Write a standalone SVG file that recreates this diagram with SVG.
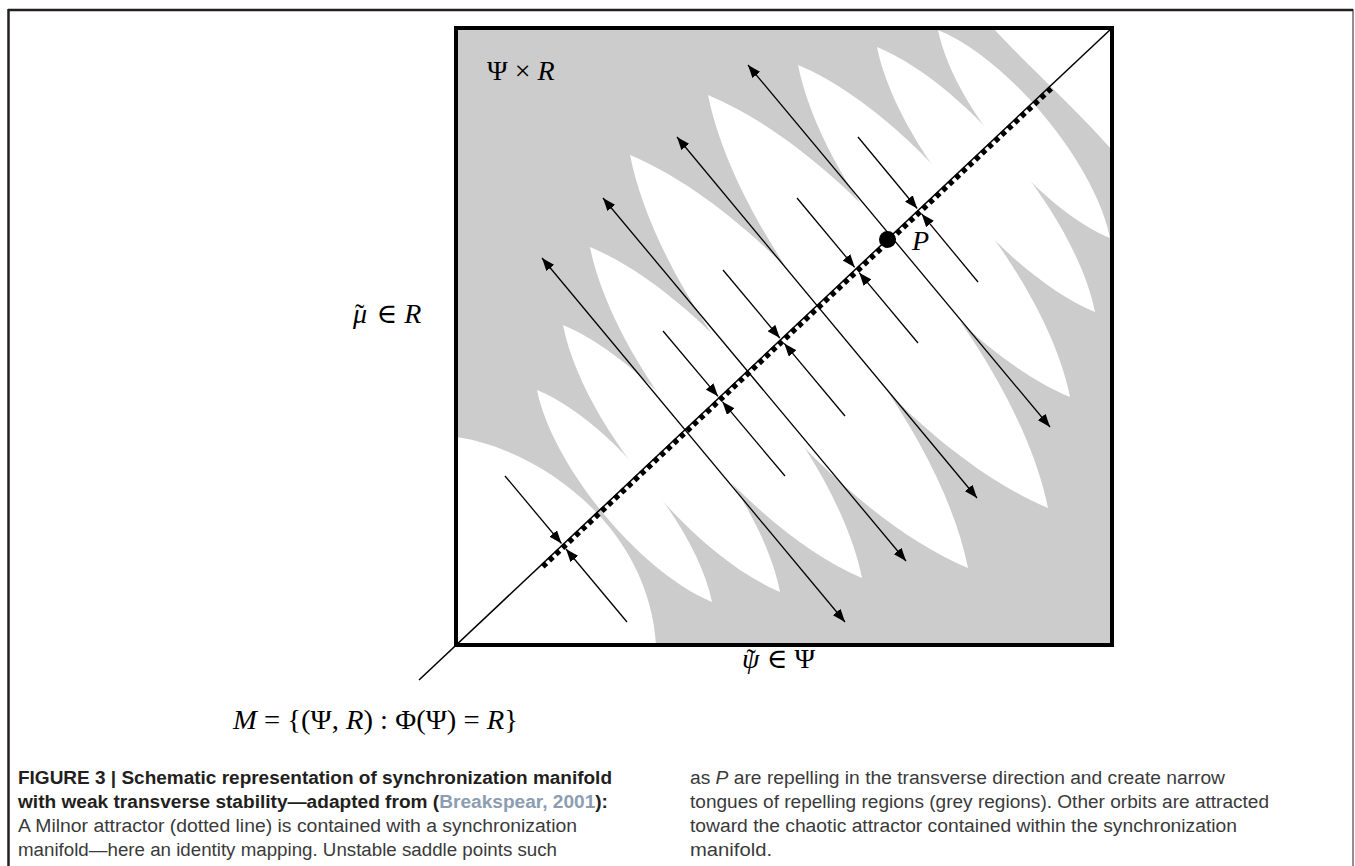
<svg xmlns="http://www.w3.org/2000/svg" width="1355" height="866" viewBox="0 0 1355 866">
<style>
.frame{stroke:#231f20;fill:none}
.lens{fill:#ffffff;stroke:none}
.arr{stroke:#000;stroke-width:1.3;fill:none}
.math{font-family:"Liberation Serif","DejaVu Serif",serif;font-size:28px;fill:#000}
.it{font-style:italic}
.cap{font-family:"Liberation Sans Narrow","Liberation Sans",Arial,sans-serif;font-size:18px;fill:#3a3a3a}
.capb{font-family:"Liberation Sans Narrow","Liberation Sans",Arial,sans-serif;font-size:18px;font-weight:bold;fill:#231f20}
.ref{fill:#8c9db2}
</style>
<defs>
<clipPath id="boxclip"><rect x="456" y="28" width="656" height="617"/></clipPath>
<marker id="ah" viewBox="0 0 13 10" refX="13" refY="5" markerWidth="13" markerHeight="10" markerUnits="userSpaceOnUse" orient="auto-start-reverse"><path d="M0,0 L13,5 L0,10 Z" fill="#000"/></marker>
</defs>
<rect width="1355" height="866" fill="#ffffff"/>
<g id="figure-frame">
<line class="frame" x1="8" y1="10" x2="1353" y2="10" stroke-width="2.5"/>
<line class="frame" x1="8.5" y1="9" x2="8.5" y2="866" stroke-width="2.5"/>
<line class="frame" x1="1353" y1="9" x2="1353" y2="866" stroke-width="1"/>
</g>
<g id="phase-space" clip-path="url(#boxclip)">
<rect x="456" y="28" width="656" height="617" fill="#cccccc"/>
<path class="lens" d="M456,437 C535,448 648,522 656,645 L456,645 Z"/>
<path class="lens" d="M993,28 C1030,68 1075,108 1112,150 L1112,28 Z"/>
<path class="lens" d="M537,390 C609,419.7 696.5,525.7 712,602 C640,572.3 552.5,466.3 537,390 Z"/>
<path class="lens" d="M563,325 C652.85,362.82 761.35,496.32 780,592 C690.15,554.18 581.65,420.68 563,325 Z"/>
<path class="lens" d="M590,247 C702.13,293.48 838.13,458.98 862,578 C749.87,531.52 613.87,366.02 590,247 Z"/>
<path class="lens" d="M630,155 C769.57,213.18 938.57,419.68 968,568 C828.43,509.82 659.43,303.32 630,155 Z"/>
<path class="lens" d="M708,95 C848.07,152.92 1018.07,359.42 1048,508 C907.93,450.08 737.93,243.58 708,95 Z"/>
<path class="lens" d="M798,65 C910.27,111.73 1046.27,277.73 1070,397 C957.73,350.27 821.73,184.27 798,65 Z"/>
<path class="lens" d="M877,47 C966.83,84.18 1075.83,216.68 1095,312 C1005.17,274.82 896.17,142.32 877,47 Z"/>
<path class="lens" d="M938,30 C1008.73,59.07 1094.73,163.07 1110,238 C1039.27,208.93 953.27,104.93 938,30 Z"/>
</g>
<g id="manifold">
<line x1="419" y1="680" x2="1112" y2="28" stroke="#000" stroke-width="1.5"/>
<line x1="542.7" y1="566.6" x2="1053.7" y2="86" stroke="#000" stroke-width="5.5" stroke-dasharray="5 4"/>
</g>
<g id="connectors">
<line class="arr" x1="542" y1="258" x2="845" y2="622" marker-start="url(#ah)" marker-end="url(#ah)"/>
<line class="arr" x1="603" y1="198" x2="906" y2="561" marker-start="url(#ah)" marker-end="url(#ah)"/>
<line class="arr" x1="677" y1="137" x2="977" y2="498" marker-start="url(#ah)" marker-end="url(#ah)"/>
<line class="arr" x1="748" y1="65" x2="1050" y2="427" marker-start="url(#ah)" marker-end="url(#ah)"/>
<line class="arr" x1="505" y1="476" x2="561.5" y2="543.5" marker-end="url(#ah)"/>
<line class="arr" x1="627" y1="622" x2="566" y2="549" marker-end="url(#ah)"/>
<line class="arr" x1="663" y1="331" x2="718" y2="396.3" marker-end="url(#ah)"/>
<line class="arr" x1="785" y1="476" x2="722.4" y2="401.7" marker-end="url(#ah)"/>
<line class="arr" x1="723" y1="270" x2="779.8" y2="338" marker-end="url(#ah)"/>
<line class="arr" x1="845" y1="416" x2="784.3" y2="343.4" marker-end="url(#ah)"/>
<line class="arr" x1="797" y1="198" x2="854.7" y2="267.3" marker-end="url(#ah)"/>
<line class="arr" x1="918" y1="343" x2="859.2" y2="272.7" marker-end="url(#ah)"/>
<line class="arr" x1="858" y1="137" x2="917.2" y2="208.5" marker-end="url(#ah)"/>
<line class="arr" x1="978" y1="282" x2="921.7" y2="213.9" marker-end="url(#ah)"/>
</g>
<g id="node-P">
<circle cx="887.5" cy="239.5" r="8.5" fill="#000"/>
<text class="math it" x="912" y="250">P</text>
</g>
<g id="box-border">
<rect x="456" y="28" width="656" height="617" fill="none" stroke="#000" stroke-width="4"/>
</g>
<g id="labels">
<text class="math" x="487" y="80">Ψ × <tspan class="it">R</tspan></text>
<text class="math" x="353" y="323"><tspan class="it">μ</tspan><tspan dx="-12">˜</tspan><tspan dx="5"> ∈ </tspan><tspan class="it">R</tspan></text>
<text class="math" x="742" y="668"><tspan class="it">ψ</tspan><tspan dx="-13">˜</tspan><tspan dx="4"> ∈ Ψ</tspan></text>
<text class="math" x="233" y="729" font-size="30" textLength="285" lengthAdjust="spacingAndGlyphs"><tspan class="it">M</tspan> = {(Ψ, <tspan class="it">R</tspan>) : Φ(Ψ) = <tspan class="it">R</tspan>}</text>
</g>
<g id="caption">
<text class="capb" x="18" y="784" textLength="594" lengthAdjust="spacingAndGlyphs">FIGURE 3 | Schematic representation of synchronization manifold</text>
<text class="capb" x="18" y="808" textLength="590" lengthAdjust="spacingAndGlyphs">with weak transverse stability—adapted from (<tspan class="ref">Breakspear, 2001</tspan>):</text>
<text class="cap" x="18" y="832" textLength="559" lengthAdjust="spacingAndGlyphs">A Milnor attractor (dotted line) is contained with a synchronization</text>
<text class="cap" x="18" y="856" textLength="539" lengthAdjust="spacingAndGlyphs">manifold—here an identity mapping. Unstable saddle points such</text>
<text class="cap" x="690" y="784" textLength="535" lengthAdjust="spacingAndGlyphs">as <tspan font-style="italic">P</tspan> are repelling in the transverse direction and create narrow</text>
<text class="cap" x="690" y="808" textLength="579" lengthAdjust="spacingAndGlyphs">tongues of repelling regions (grey regions). Other orbits are attracted</text>
<text class="cap" x="690" y="832" textLength="547" lengthAdjust="spacingAndGlyphs">toward the chaotic attractor contained within the synchronization</text>
<text class="cap" x="690" y="856" textLength="82" lengthAdjust="spacingAndGlyphs">manifold.</text>
</g>
</svg>
